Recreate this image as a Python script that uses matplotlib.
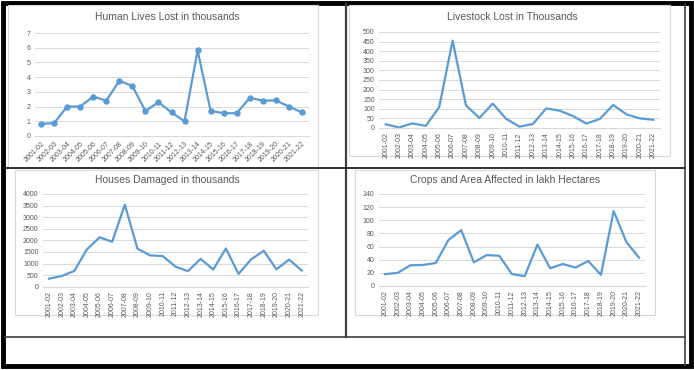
import matplotlib
matplotlib.use("Agg")
import matplotlib.pyplot as plt
from matplotlib.patches import Rectangle

years = ["2001-02", "2002-03", "2003-04", "2004-05", "2005-06", "2006-07", "2007-08",
         "2008-09", "2009-10", "2010-11", "2011-12", "2012-13", "2013-14", "2014-15",
         "2015-16", "2016-17", "2017-18", "2018-19", "2019-20", "2020-21", "2021-22"]

lives = [0.83, 0.87, 2.0, 2.0, 2.68, 2.4, 3.75, 3.4, 1.7, 2.3, 1.6, 1.0, 5.82, 1.7,
         1.55, 1.55, 2.6, 2.4, 2.42, 2.0, 1.6]
livestock = [19, 3, 24, 11, 109, 455, 118, 52, 127, 48, 7, 21, 102, 90, 62, 23, 47,
             120, 71, 50, 43]
houses = [345, 460, 680, 1610, 2130, 1940, 3540, 1640, 1350, 1320, 870, 670, 1200,
          740, 1650, 550, 1180, 1550, 750, 1170, 700]
crops = [18, 20, 31.5, 32, 35, 70, 85, 36, 47, 46, 18, 15, 63, 27, 33.5, 28, 38, 17,
         114, 67, 43]

W, H = 694, 370
BLUE = "#5B9BD5"
GRID = "#D9D9D9"
TXT = "#595959"

plt.rcParams['font.family'] = ['Liberation Sans', 'DejaVu Sans']

fig = plt.figure(figsize=(W / 100, H / 100), dpi=100)

# background layer in pixel coordinates: table borders and chart frames
bg = fig.add_axes([0, 0, 1, 1], zorder=-1)
bg.set_xlim(0, W)
bg.set_ylim(H, 0)
bg.axis("off")
bg.add_patch(Rectangle((3, 3), 688, 363, fill=False, ec="black", lw=3.5))
bg.plot([685, 685], [4, 365], color="#404040", lw=1.2)
bg.plot([346, 346], [4, 337], color="#404040", lw=1.6)
bg.plot([5, 685], [168, 168], color="#202020", lw=1.3)
bg.plot([5, 685], [337, 337], color="#404040", lw=1.2)
for x0, y0, x1, y1 in [(8, 5, 318, 168), (349, 5, 670, 156),
                       (15, 170, 318, 315), (355, 170, 655, 315)]:
    bg.add_patch(Rectangle((x0, y0), x1 - x0, y1 - y0, fill=False, ec=GRID, lw=0.8))


def make_chart(box, values, ymax, step, title, title_xy, rot, marker=None):
    l, r, t, b = box
    ax = fig.add_axes([l / W, 1 - b / H, (r - l) / W, (b - t) / H])
    x = list(range(len(values)))
    ax.plot(x, values, color=BLUE, lw=1.6, marker=marker, markersize=3.6)
    ax.set_xlim(-0.5, len(values) - 0.5)
    ax.set_ylim(0, ymax)
    ax.set_yticks([i * step for i in range(int(ymax / step) + 1)])
    ax.yaxis.grid(True, color=GRID, lw=0.7)
    ax.set_axisbelow(True)
    for s in ["top", "right", "left"]:
        ax.spines[s].set_visible(False)
    ax.spines["bottom"].set_color(GRID)
    ax.tick_params(axis="both", length=0, labelsize=5, colors=TXT, pad=3)
    ax.set_xticks(x)
    if rot == 45:
        ax.set_xticklabels(years, rotation=45, ha="right", rotation_mode="anchor")
    else:
        ax.set_xticklabels(years, rotation=90)
    fig.text(title_xy[0] / W, 1 - title_xy[1] / H, title, ha="center", va="center",
             fontsize=7.5, color=TXT)
    return ax


make_chart((34.5, 308.5, 33, 136), lives, 7, 1, "Human Lives Lost in thousands",
           (167, 17), 45, marker="o")
make_chart((379, 660, 32, 128), livestock, 500, 50, "Livestock Lost in Thousands",
           (512, 17), 90)
make_chart((42.7, 308, 194, 286.7), houses, 4000, 500, "Houses Damaged in thousands",
           (167, 180), 90)
make_chart((378.6, 645.4, 194, 286), crops, 140, 20,
           "Crops and Area Affected in lakh Hectares", (505, 180), 90)

fig.savefig("out.png", dpi=100)
